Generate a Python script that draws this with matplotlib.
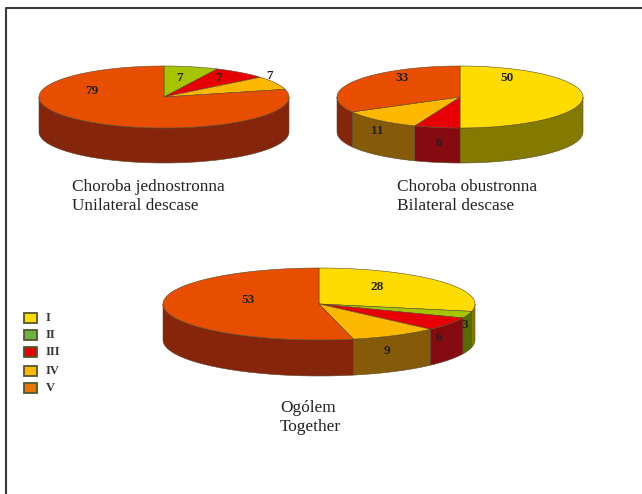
import numpy as np
import matplotlib
matplotlib.use('Agg')
import matplotlib.pyplot as plt
from matplotlib.patches import Rectangle

categories=['I','II','III','IV','V']
unilateral=[0,7,7,7,79]
bilateral=[50,0,6,11,33]
together=[28,3,6,9,53]
unilateral_labels=['','7','7','7','79']
bilateral_labels=['50','','6','11','33']
together_labels=['28','3','6','9','53']

top_colors=['#FFDC00','#A6C400','#E60005','#FDB900','#E84E00']
side_colors=['#857A00','#566B00','#860B10','#855A08','#85260C']
legend_colors=['#FFDC00','#6DB33F','#E60005','#FDB900','#E87500']
edge='#5a4a30'

plt.rcParams['font.family']=['Liberation Serif','DejaVu Serif']

def ell(cx,cy,rx,ry,a,dy=0):
    # angle is clockwise from the top, in degrees
    r=np.radians(a)
    return cx+rx*np.sin(r),cy-ry*np.cos(r)+dy

def pie3d(ax,values,labels,label_pos,cx,cy,rx,ry,depth):
    total=sum(values)
    bounds=np.cumsum([0]+list(values))*360.0/total
    # side wall first, front half only (90..270 degrees clockwise from top)
    for i in range(len(values)):
        a0=max(bounds[i],90)
        a1=min(bounds[i+1],270)
        if a1<=a0:
            continue
        t=np.linspace(a0,a1,80)
        xt,yt=ell(cx,cy,rx,ry,t)
        xb,yb=ell(cx,cy,rx,ry,t,depth)
        ax.fill(np.r_[xt,xb[::-1]],np.r_[yt,yb[::-1]],fc=side_colors[i],ec=edge,lw=0.4,zorder=2)
    for i in range(len(values)):
        if values[i]==0:
            continue
        t=np.linspace(bounds[i],bounds[i+1],120)
        x,y=ell(cx,cy,rx,ry,t)
        ax.fill(np.r_[cx,x],np.r_[cy,y],fc=top_colors[i],ec=edge,lw=0.4,zorder=3)
    for lab,(lx,ly) in zip(labels,label_pos):
        if lab:
            ax.text(lx,ly,lab,ha='center',va='center',fontsize=9.5,fontweight='bold',color='#222222',zorder=4)

fig=plt.figure(figsize=(6.42,4.94),dpi=100)
ax=fig.add_axes([0,0,1,1])
ax.set_xlim(0,642)
ax.set_ylim(494,0)
ax.axis('off')

# page frame, only left and top are in the crop
ax.plot([6,6,642],[494,8,8],color='#3a3a3a',lw=1.5)

pie3d(ax,unilateral,unilateral_labels,[(0,0),(180,78),(219,78),(270,76),(92,91)],164,97,125,31,35)
pie3d(ax,bilateral,bilateral_labels,[(507,78),(0,0),(439,143),(377,131),(402,78)],460,97,123,31,35)
pie3d(ax,together,together_labels,[(377,287),(465,325),(439,338),(387,351),(248,300)],319,304,156,36,36)

cap=dict(fontsize=12.4,color='#222222',va='center',ha='left')
ax.text(72,187,'Choroba jednostronna',**cap)
ax.text(72,206,'Unilateral descase',**cap)
ax.text(397,187,'Choroba obustronna',**cap)
ax.text(397,206,'Bilateral descase',**cap)
ax.text(280,408,'Ogólem',**cap)
ax.text(280,427,'Together',**cap)

# legend
leg_y=[318,335,352,371,388]
for name,col,y in zip(categories,legend_colors,leg_y):
    ax.add_patch(Rectangle((24,y-5),13,10,fc=col,ec='#555533',lw=1.3))
    ax.text(46,y,name,fontsize=9,fontweight='bold',color='#333333',va='center',ha='left')

fig.savefig('out.png',dpi=100)
